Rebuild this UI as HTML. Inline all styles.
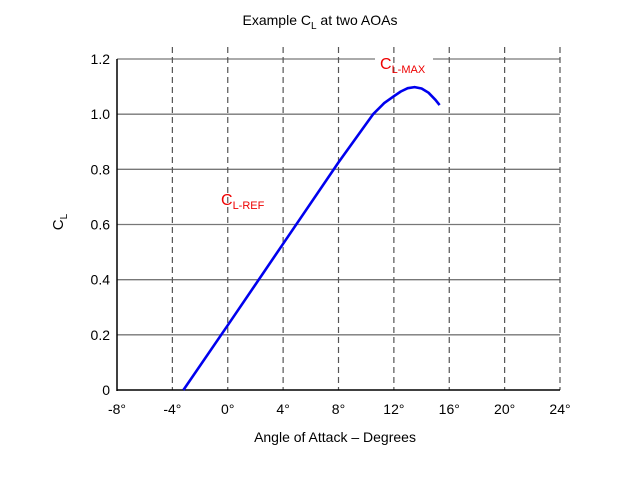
<!DOCTYPE html>
<html><head><meta charset="utf-8"><style>
body{margin:0;background:#fff;font-family:"Liberation Sans",Arial,sans-serif}
</style></head><body>
<svg id="c" width="640" height="480" xmlns="http://www.w3.org/2000/svg" font-family="Liberation Sans, Arial, sans-serif"></svg>
<script>
const xTicks=[-8,-4,0,4,8,12,16,20,24];
const yTicks=[0,0.2,0.4,0.6,0.8,1.0,1.2];
const yTickLabels=["0","0.2","0.4","0.6","0.8","1.0","1.2"];
const aoa=[-3.2,0,4,8,10.5,11.3,12,12.5,13,13.5,14,14.5,15,15.3];
const cl=[0,0.235,0.53,0.825,1.0,1.04,1.065,1.082,1.094,1.098,1.093,1.078,1.052,1.033];
const X0=117,X1=560,Y0=390,Y1=59;
const xs=v=>X0+(v+8)/32*(X1-X0);
const ys=v=>Y0-v/1.2*(Y0-Y1);
const svg=document.getElementById('c');
const NS='http://www.w3.org/2000/svg';
function mk(t,a,p){const e=document.createElementNS(NS,t);for(const k in a)e.setAttribute(k,a[k]);(p||svg).appendChild(e);return e;}
yTicks.forEach((v,i)=>{
 if(i===0)return;
 if(v===1.2){
  let l=mk('line',{x1:X0,x2:375,y1:ys(v),y2:ys(v),stroke:'#777','stroke-width':1.3});
  
  l=mk('line',{x1:433,x2:X1,y1:ys(v),y2:ys(v),stroke:'#777','stroke-width':1.3});
  
 } else {
  const l=mk('line',{x1:X0,x2:X1,y1:ys(v),y2:ys(v),stroke:'#777','stroke-width':1.3});
  
 }
});
xTicks.forEach((v,i)=>{
 if(i===0)return;
 const l=mk('line',{x1:xs(v),x2:xs(v),y1:Y1-12,y2:Y0,stroke:'#555','stroke-width':1.2,'stroke-dasharray':'6,4'});
 
});
let a=mk('line',{x1:X0,x2:X0,y1:Y1,y2:Y0+1,stroke:'#000','stroke-width':1.5});

a=mk('line',{x1:X0,x2:X1,y1:Y0,y2:Y0,stroke:'#000','stroke-width':1.5});

xTicks.forEach(v=>{
 const t=mk('text',{x:xs(v),y:414,'font-size':14,'text-anchor':'middle',fill:'#000'});
 t.textContent=v+'°';
 
});
yTicks.forEach((v,i)=>{
 const t=mk('text',{x:110,y:ys(v)+5,'font-size':14,'text-anchor':'end',fill:'#000'});
 t.textContent=yTickLabels[i];
 
});
const p=mk('path',{d:aoa.map((v,i)=>(i?'L':'M')+xs(v).toFixed(1)+','+ys(cl[i]).toFixed(1)).join(''),fill:'none',stroke:'#0000ee','stroke-width':2.6,'stroke-linejoin':'round'});

</script>
<div style="position:absolute;left:0;top:0;width:640px;height:480px;pointer-events:none">
<div style="position:absolute;left:0;width:640px;top:12px;text-align:center;font-size:14px">Example C<sub style="font-size:10px">L</sub> at two AOAs</div>
<div style="position:absolute;left:0;width:670px;top:429px;text-align:center;font-size:14px">Angle of Attack – Degrees</div>
<div style="position:absolute;left:52px;top:212px;font-size:15px;transform:rotate(-90deg);transform-origin:center">C<sub style="font-size:10px">L</sub></div>
<div style="position:absolute;left:380px;top:56px;font-size:16px;color:#ee0000">C<sub style="font-size:11px">L-MAX</sub></div>
<div style="position:absolute;left:221px;top:192px;font-size:16px;color:#ee0000">C<sub style="font-size:11px">L-REF</sub></div>
</div>
</body></html>
